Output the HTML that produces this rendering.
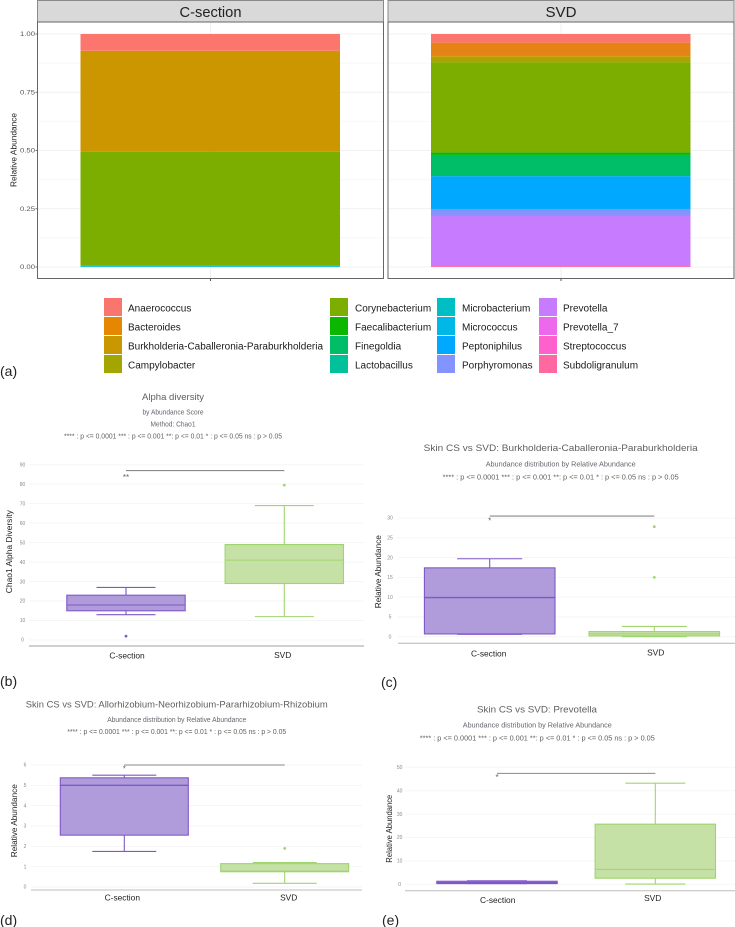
<!DOCTYPE html>
<html lang="en">
<head>
<meta charset="utf-8">
<title>Skin microbiome: C-section vs SVD</title>
<style>
html,body{margin:0;padding:0;background:#fff;}
#fig{display:block;width:735px;height:927px;font-family:"Liberation Sans",sans-serif;filter:blur(0.3px);}
.leg{font-size:10px;fill:#1a1a1a;}
.t1{font-size:9.5px;fill:#5f5f5f;text-anchor:middle;}
.t2{font-size:7.6px;fill:#666670;text-anchor:middle;}
.t3{font-size:7.2px;fill:#5f5f5f;text-anchor:middle;}
.xl{font-size:8.4px;fill:#222;text-anchor:middle;}
.yt{font-size:8.6px;fill:#222;text-anchor:middle;}
.pl{font-size:14px;fill:#222;}
</style>
</head>
<body>
<svg id="fig" xmlns="http://www.w3.org/2000/svg" width="735" height="927" viewBox="0 0 735 927">
  <rect x="0" y="0" width="735" height="927" fill="#fff"/>

  <g id="panel-a">
    <rect x="37.5" y="0.5" width="346" height="21.5" fill="#d9d9d9" stroke="#8a8a8a"/>
    <rect x="388" y="0.5" width="346" height="21.5" fill="#d9d9d9" stroke="#8a8a8a"/>
    <text x="210.5" y="17" font-size="15" fill="#222" text-anchor="middle" textLength="62" lengthAdjust="spacingAndGlyphs">C-section</text>
    <text x="561" y="17" font-size="15" fill="#222" text-anchor="middle" textLength="31" lengthAdjust="spacingAndGlyphs">SVD</text>
    <text transform="translate(16.5,150) rotate(-90)" font-size="8" fill="#222" text-anchor="middle" textLength="74" lengthAdjust="spacingAndGlyphs">Relative Abundance</text>
    <g id="a-plot"></g>
  </g>

  <g id="legend">
    <rect x="104" y="298" width="18" height="18" fill="#F8766D"/>
    <text class="leg" x="128" y="311.5">Anaerococcus</text>
    <rect x="104" y="317" width="18" height="18" fill="#E58700"/>
    <text class="leg" x="128" y="330.5">Bacteroides</text>
    <rect x="104" y="336" width="18" height="18" fill="#C99800"/>
    <text class="leg" x="128" y="349.5" textLength="195" lengthAdjust="spacingAndGlyphs">Burkholderia-Caballeronia-Paraburkholderia</text>
    <rect x="104" y="355" width="18" height="18" fill="#A3A500"/>
    <text class="leg" x="128" y="368.5">Campylobacter</text>

    <rect x="330" y="298" width="18" height="18" fill="#7CAE00"/>
    <text class="leg" x="355" y="311.5">Corynebacterium</text>
    <rect x="330" y="317" width="18" height="18" fill="#0CB702"/>
    <text class="leg" x="355" y="330.5">Faecalibacterium</text>
    <rect x="330" y="336" width="18" height="18" fill="#00BE67"/>
    <text class="leg" x="355" y="349.5">Finegoldia</text>
    <rect x="330" y="355" width="18" height="18" fill="#00C19A"/>
    <text class="leg" x="355" y="368.5">Lactobacillus</text>

    <rect x="437" y="298" width="18" height="18" fill="#00BFC4"/>
    <text class="leg" x="462" y="311.5">Microbacterium</text>
    <rect x="437" y="317" width="18" height="18" fill="#00B8E7"/>
    <text class="leg" x="462" y="330.5">Micrococcus</text>
    <rect x="437" y="336" width="18" height="18" fill="#00A9FF"/>
    <text class="leg" x="462" y="349.5">Peptoniphilus</text>
    <rect x="437" y="355" width="18" height="18" fill="#8494FF"/>
    <text class="leg" x="462" y="368.5">Porphyromonas</text>

    <rect x="539" y="298" width="18" height="18" fill="#C77CFF"/>
    <text class="leg" x="563" y="311.5">Prevotella</text>
    <rect x="539" y="317" width="18" height="18" fill="#ED68ED"/>
    <text class="leg" x="563" y="330.5">Prevotella_7</text>
    <rect x="539" y="336" width="18" height="18" fill="#FF61CC"/>
    <text class="leg" x="563" y="349.5">Streptococcus</text>
    <rect x="539" y="355" width="18" height="18" fill="#FF68A1"/>
    <text class="leg" x="563" y="368.5">Subdoligranulum</text>
  </g>
  <text class="pl" x="0" y="376">(a)</text>

  <g id="panel-b">
    <text class="t1" x="173" y="400" textLength="62" lengthAdjust="spacingAndGlyphs">Alpha diversity</text>
    <text class="t2" x="173" y="414.5" textLength="61" lengthAdjust="spacingAndGlyphs">by Abundance Score</text>
    <text class="t2" x="173" y="426.5" textLength="45" lengthAdjust="spacingAndGlyphs">Method: Chao1</text>
    <text class="t3" x="173" y="438.5" textLength="218" lengthAdjust="spacingAndGlyphs">**** : p &lt;= 0.0001  *** : p &lt;= 0.001  **: p &lt;= 0.01  * : p &lt;= 0.05  ns : p &gt; 0.05</text>
    <text class="yt" transform="translate(12,551.7) rotate(-90)" textLength="83" lengthAdjust="spacingAndGlyphs">Chao1 Alpha Diversity</text>
    <text class="xl" x="127" y="658.5">C-section</text>
    <text class="xl" x="282.7" y="658">SVD</text>
    <g id="b-plot"></g>
  </g>
  <text class="pl" x="0" y="686">(b)</text>

  <g id="panel-c">
    <text class="t1" x="560.7" y="451" textLength="274" lengthAdjust="spacingAndGlyphs">Skin CS vs SVD: Burkholderia-Caballeronia-Paraburkholderia</text>
    <text class="t2" x="560.7" y="466.5" textLength="150" lengthAdjust="spacingAndGlyphs">Abundance distribution by Relative Abundance</text>
    <text class="t3" x="560.7" y="479.5" textLength="236" lengthAdjust="spacingAndGlyphs">**** : p &lt;= 0.0001  *** : p &lt;= 0.001  **: p &lt;= 0.01  * : p &lt;= 0.05  ns : p &gt; 0.05</text>
    <text class="yt" transform="translate(381,571.7) rotate(-90)" textLength="73" lengthAdjust="spacingAndGlyphs">Relative Abundance</text>
    <text class="xl" x="488.7" y="656.5">C-section</text>
    <text class="xl" x="655.7" y="655.5">SVD</text>
    <g id="c-plot"></g>
  </g>
  <text class="pl" x="381" y="687">(c)</text>

  <g id="panel-d">
    <text class="t1" x="176.7" y="707.5" textLength="302" lengthAdjust="spacingAndGlyphs">Skin CS vs SVD: Allorhizobium-Neorhizobium-Pararhizobium-Rhizobium</text>
    <text class="t2" x="176.7" y="722" textLength="139" lengthAdjust="spacingAndGlyphs">Abundance distribution by Relative Abundance</text>
    <text class="t3" x="176.7" y="734" textLength="219" lengthAdjust="spacingAndGlyphs">**** : p &lt;= 0.0001  *** : p &lt;= 0.001  **: p &lt;= 0.01  * : p &lt;= 0.05  ns : p &gt; 0.05</text>
    <text class="yt" transform="translate(17,820.7) rotate(-90)" textLength="73" lengthAdjust="spacingAndGlyphs">Relative Abundance</text>
    <text class="xl" x="122.3" y="900.7">C-section</text>
    <text class="xl" x="288.7" y="900.7">SVD</text>
    <g id="d-plot"></g>
  </g>
  <text class="pl" x="0" y="925">(d)</text>

  <g id="panel-e">
    <text class="t1" x="537" y="712.5" textLength="120" lengthAdjust="spacingAndGlyphs">Skin CS vs SVD: Prevotella</text>
    <text class="t2" x="537.3" y="727.5" textLength="149" lengthAdjust="spacingAndGlyphs">Abundance distribution by Relative Abundance</text>
    <text class="t3" x="537.3" y="740.5" textLength="235" lengthAdjust="spacingAndGlyphs">**** : p &lt;= 0.0001  *** : p &lt;= 0.001  **: p &lt;= 0.01  * : p &lt;= 0.05  ns : p &gt; 0.05</text>
    <text class="yt" transform="translate(392,828.7) rotate(-90)" textLength="68" lengthAdjust="spacingAndGlyphs">Relative Abundance</text>
    <text class="xl" x="497.7" y="903">C-section</text>
    <text class="xl" x="652.7" y="901">SVD</text>
    <g id="e-plot"></g>
  </g>
  <text class="pl" x="382" y="925">(e)</text>
</svg>

<script>
// ---- panel (a) data ----
const genera = ['Anaerococcus','Bacteroides','Burkholderia','Campylobacter','Corynebacterium','Faecalibacterium','Finegoldia','Lactobacillus','Microbacterium','Micrococcus','Peptoniphilus','Porphyromonas','Prevotella','Prevotella_7','Streptococcus','Subdoligranulum'];
const csAbundance  = [0.072,0,0.433,0,0.490,0,0,0,0.002,0.003,0,0,0,0,0,0];
const svdAbundance = [0.037,0.053,0.008,0.024,0.386,0.011,0.091,0,0,0,0.141,0.030,0.215,0,0,0.004];
const fillPalette = ['#FC766E','#E58415','#CC9600','#A9A400','#7CAE00','#0CB702','#00BE67','#00C19A','#00BFC4','#00B8E7','#00A9FF','#8494FF','#C77CFF','#ED68ED','#FF61CC','#FF68A1'];
const stackTicks = [0,0.25,0.5,0.75,1];
const stackTickLabels = ['0.00','0.25','0.50','0.75','1.00'];
const stackMinorTicks = [0.125,0.375,0.625,0.875];

// ---- panel (b) data: [low whisker, q1, median, q3, high whisker] ----
const bCsBox = [13,15,18,23,27];
const bSvdBox = [12,29,41,49,69];
const bCsOutliers = [2];
const bSvdOutliers = [79.5];
const bTicks = [0,10,20,30,40,50,60,70,80,90];
const bBracket = [87];
const bStars = ['**'];

// ---- panel (c) data ----
const cCsBox = [0.6,0.7,9.9,17.4,19.7];
const cSvdBox = [0,0.2,0.7,1.3,2.6];
const cCsOutliers = [];
const cSvdOutliers = [15,27.8];
const cTicks = [0,5,10,15,20,25,30];
const cBracket = [30.5];
const cStars = ['*'];

// ---- panel (d) data ----
const dCsBox = [1.75,2.55,5,5.37,5.5];
const dSvdBox = [0.18,0.75,0.78,1.15,1.2];
const dCsOutliers = [];
const dSvdOutliers = [1.9];
const dTicks = [0,1,2,3,4,5,6];
const dBracket = [6];
const dStars = ['*'];

// ---- panel (e) data ----
const eCsBox = [0.3,0.3,0.7,1.3,1.5];
const eSvdBox = [0.1,2.6,6.4,25.7,43.2];
const eCsOutliers = [];
const eSvdOutliers = [];
const eTicks = [0,10,20,30,40,50];
const eBracket = [47.4];
const eStars = ['*'];

const SVGNS = 'http://www.w3.org/2000/svg';
function mk(parent, tag, attrs, txt) {
  const node = document.createElementNS(SVGNS, tag);
  for (const k in attrs) node.setAttribute(k, attrs[k]);
  if (txt !== undefined) node.textContent = txt;
  parent.appendChild(node);
  return node;
}
function linear(d0, d1, r0, r1) {
  return function (v) { return r0 + (v - d0) * (r1 - r0) / (d1 - d0); };
}

// ---- stacked bars ----
function drawStackPanel(parent, x0, x1, barX0, barX1, values, panelKey) {
  const yA = linear(0, 1, 267, 34);
  const xMid = (x0 + x1) / 2;
  const plotBg = mk(parent, 'rect', {x:x0, y:22, width:x1-x0, height:256.5, fill:'#fff'});
  
  
  stackMinorTicks.forEach(function (t) {
    const g = mk(parent, 'line', {x1:x0, x2:x1, y1:yA(t), y2:yA(t), stroke:'#f8f8f8', 'stroke-width':1});
    
    
  });
  stackTicks.forEach(function (t) {
    const g = mk(parent, 'line', {x1:x0, x2:x1, y1:yA(t), y2:yA(t), stroke:'#f1f1f1', 'stroke-width':1});
    
    
  });
  const vg = mk(parent, 'line', {x1:xMid, x2:xMid, y1:22, y2:278, stroke:'#f1f1f1', 'stroke-width':1});
  
  
  let cum = 0;
  for (let i = genera.length - 1; i >= 0; i--) {
    if (values[i] <= 0) continue;
    const yTop = yA(cum + values[i]);
    const yBottom = yA(cum);
    const seg = mk(parent, 'rect', {x:barX0, width:barX1-barX0, y:yTop, height:yBottom-yTop, fill:fillPalette[i]});
    
    
    cum += values[i];
  }
  const border = mk(parent, 'rect', {x:x0, y:22, width:x1-x0, height:256.5, fill:'none', stroke:'#666', 'stroke-width':1});
  
  
  const tick = mk(parent, 'line', {x1:xMid, x2:xMid, y1:278.5, y2:281, stroke:'#555', 'stroke-width':1});
  
  
}
const aPlot = document.getElementById('a-plot');
drawStackPanel(aPlot, 37.5, 383.5, 80.5, 340, csAbundance, 'c-section');
drawStackPanel(aPlot, 388, 734, 431, 690.5, svdAbundance, 'svd');
stackTicks.forEach(function (t, i) {
  const yA = linear(0, 1, 267, 34);
  const lab = mk(aPlot, 'text', {x:35, y:yA(t)+2.2, 'font-size':6.4, fill:'#555', 'text-anchor':'end', textLength:15, lengthAdjust:'spacingAndGlyphs'}, stackTickLabels[i]);
  
  
  const tk = mk(aPlot, 'line', {x1:35.5, x2:37.5, y1:yA(t), y2:yA(t), stroke:'#555', 'stroke-width':0.8});
  
  
});

// ---- box plots ----
const PURPLE = {fill:'#b09bdb', stroke:'#7f58c8'};
const GREEN = {fill:'#c5e1a5', stroke:'#a0d56e'};

function drawBox(parent, stats, outliers, cx, halfBox, halfCap, y, col, key, medianW) {
  const box = stats;
  const w1 = mk(parent, 'line', {x1:cx, x2:cx, y1:y(box[3]), y2:y(box[4]), stroke:col.stroke, 'stroke-width':1.1});
  
  
  const w2 = mk(parent, 'line', {x1:cx, x2:cx, y1:y(box[1]), y2:y(box[0]), stroke:col.stroke, 'stroke-width':1.1});
  
  
  const c1 = mk(parent, 'line', {x1:cx-halfCap, x2:cx+halfCap, y1:y(box[4]), y2:y(box[4]), stroke:col.stroke, 'stroke-width':1.1});
  
  
  const c2 = mk(parent, 'line', {x1:cx-halfCap, x2:cx+halfCap, y1:y(box[0]), y2:y(box[0]), stroke:col.stroke, 'stroke-width':1.1});
  
  
  const r = mk(parent, 'rect', {x:cx-halfBox, width:2*halfBox, y:y(box[3]), height:y(box[1])-y(box[3]), fill:col.fill, stroke:col.stroke, 'stroke-width':1.1});
  
  
  const m = mk(parent, 'line', {x1:cx-halfBox, x2:cx+halfBox, y1:y(box[2]), y2:y(box[2]), stroke:col.stroke, 'stroke-width':medianW});
  
  
  outliers.forEach(function (v) {
    const o = mk(parent, 'circle', {cx:cx, cy:y(v), r:1.4, fill:col.stroke});
    
    
  });
}

function drawBoxPanel(p) {
  const parent = document.getElementById(p.id);
  const y = linear(p.ticks[0], p.ticks[p.ticks.length-1], p.y0, p.y1);
  const x = linear(0, 1, p.c0, p.c1);
  p.ticks.forEach(function (t) {
    const g = mk(parent, 'line', {x1:p.gridX0, x2:p.gridX1, y1:y(t), y2:y(t), stroke:'#f5f5f5', 'stroke-width':1});
    
    
    const lab = mk(parent, 'text', {x:p.tickX, y:y(t)+1.7, 'font-size':5, fill:'#888', 'text-anchor':'middle'}, String(t));
    
    
  });
  const axis = mk(parent, 'line', {x1:p.gridX0, x2:p.gridX1, y1:p.axisY, y2:p.axisY, stroke:p.axisCol, 'stroke-width':p.axisW});
  
  
  drawBox(parent, p.cs, p.csOut, x(0), p.halfBox, p.halfCap, y, PURPLE, 'c-section', p.medCs);
  drawBox(parent, p.svd, p.svdOut, x(1), p.halfBox, p.halfCap, y, GREEN, 'svd', 1);
  const yb = y(p.bracket[0]);
  const br = mk(parent, 'line', {x1:x(0), x2:x(1), y1:yb, y2:yb, stroke:'#8a8a8a', 'stroke-width':1.1});
  
  
  const st = mk(parent, 'text', {x:x(0), y:yb+p.starDy, 'font-size':8, fill:'#666', 'text-anchor':'middle'}, p.stars[0]);
  
  
}

drawBoxPanel({id:'b-plot', ticks:bTicks, cs:bCsBox, svd:bSvdBox, csOut:bCsOutliers, svdOut:bSvdOutliers, bracket:bBracket, stars:bStars,
  y0:640, y1:464.7, c0:126, c1:284.3, halfBox:59.2, halfCap:29.5, gridX0:29, gridX1:364, tickX:22.5, axisY:646, axisCol:'#cfcfcf', axisW:2, starDy:9.5, medCs:1});
drawBoxPanel({id:'c-plot', ticks:cTicks, cs:cCsBox, svd:cSvdBox, csOut:cCsOutliers, svdOut:cSvdOutliers, bracket:cBracket, stars:cStars,
  y0:636.7, y1:518, c0:489.7, c1:654.3, halfBox:65.3, halfCap:32.5, gridX0:398, gridX1:735, tickX:390, axisY:643.3, axisCol:'#b5b5b5', axisW:1, starDy:7.5, medCs:1.4});
drawBoxPanel({id:'d-plot', ticks:dTicks, cs:dCsBox, svd:dSvdBox, csOut:dCsOutliers, svdOut:dSvdOutliers, bracket:dBracket, stars:dStars,
  y0:887, y1:765, c0:124.3, c1:284.7, halfBox:64, halfCap:32, gridX0:31, gridX1:362, tickX:25, axisY:890, axisCol:'#bdbdbd', axisW:1, starDy:6.5, medCs:1.4});
drawBoxPanel({id:'e-plot', ticks:eTicks, cs:eCsBox, svd:eSvdBox, csOut:eCsOutliers, svdOut:eSvdOutliers, bracket:eBracket, stars:eStars,
  y0:884.3, y1:767.3, c0:497, c1:655.3, halfBox:60.2, halfCap:30, gridX0:405, gridX1:735, tickX:399.7, axisY:890.7, axisCol:'#bdbdbd', axisW:1, starDy:6.5, medCs:1.4});
</script>
</body>
</html>
